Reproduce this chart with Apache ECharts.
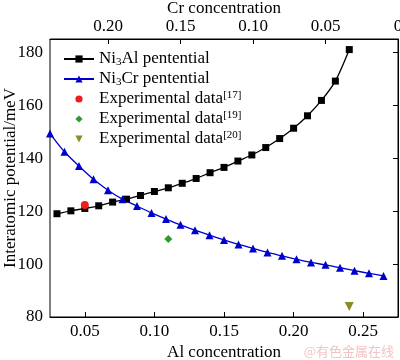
<!DOCTYPE html>
<html>
<head>
<meta charset="utf-8">
<script src="https://cdn.jsdelivr.net/npm/echarts@6/dist/echarts.min.js"></script>
<style>html,body{margin:0;padding:0;background:#fff;}#c{width:400px;height:360px;}</style>
</head>
<body>
<div id="c"></div>
<script>
// Ni3Al potential vs Al concentration (bottom axis)
var alConc = [0.03,0.04,0.05,0.06,0.07,0.08,0.09,0.10,0.11,0.12,0.13,0.14,0.15,0.16,0.17,0.18,0.19,0.20,0.21,0.22,0.23,0.24];
var ni3AlVals = [119.0,120.1,121.0,122.0,123.4,124.5,125.9,127.4,128.8,130.5,132.3,134.5,136.5,138.9,141.2,144.0,147.4,151.3,156.0,161.8,169.1,181.0];
// Ni3Cr potential vs Cr concentration (top axis)
var crConc = [0.24,0.23,0.22,0.21,0.20,0.19,0.18,0.17,0.16,0.15,0.14,0.13,0.12,0.11,0.10,0.09,0.08,0.07,0.06,0.05,0.04,0.03,0.02,0.01];
var ni3CrVals = [149.3,142.4,137.0,132.0,127.9,124.5,121.9,119.3,117.0,114.8,112.8,110.9,109.1,107.4,105.9,104.4,103.1,101.8,100.6,99.7,98.6,97.5,96.5,95.5];
// Experimental data (Al concentration, potential)
var exp17 = [[0.05,122.3]];
var exp19 = [[0.11,109.5]];
var exp20 = [[0.24,84.0]];
// Tick labels
var alTicks = [0.05,0.10,0.15,0.20,0.25];
var crTicks = [0,0.05,0.10,0.15,0.20];
var yTicks = [80,100,120,140,160,180];

var FONT = 'Liberation Serif';
var FS = 17;
var chart = echarts.init(document.getElementById('c'), null, {renderer:'canvas'});
function zip(xs, ys){ return xs.map(function(x,i){return [x, ys[i]];}); }
var legendNames = {
  'Ni3Al': 'Ni{sub|3}Al pentential',
  'Ni3Cr': 'Ni{sub|3}Cr pentential',
  'exp17': 'Experimental data{sup|[17]}',
  'exp19': 'Experimental data{sup|[19]}',
  'exp20': 'Experimental data{sup|[20]}'
};
var hidden = {opacity: 0, width: 0};
chart.setOption({
  animation: false,
  backgroundColor: '#fff',
  textStyle: {fontFamily: FONT},
  grid: {left: 50, right: 2, top: 39, bottom: 43, outerBoundsMode: 'none', containLabel: false,
    show: true, borderColor: '#000', borderWidth: 1, backgroundColor: 'transparent'},
  legend: {
    orient: 'vertical', left: 58, top: 45, itemGap: 2, itemWidth: 30, itemHeight: 9,
    data: ['Ni3Al','Ni3Cr','exp17','exp19','exp20'],
    formatter: function(n){ return legendNames[n]; },
    textStyle: {fontFamily: FONT, fontSize: FS, color: '#000', lineHeight: 18,
      rich: {
        sub: {fontFamily: FONT, fontSize: 11, color: '#000', verticalAlign: 'bottom', lineHeight: 18, padding:[7,0,0,0]},
        sup: {fontFamily: FONT, fontSize: 11, color: '#000', verticalAlign: 'top', lineHeight: 18, padding:[0,0,7,0]}
      }
    }
  },
  xAxis: [{
    type: 'value', position: 'bottom', min: 0.025, max: 0.275,
    name: 'Al concentration', nameLocation: 'middle', nameGap: 27, nameMoveOverlap: false,
    nameTextStyle: {fontFamily: FONT, fontSize: FS, color: '#000'},
    axisLine: {lineStyle: {color: '#000', width: 1}},
    axisTick: {inside: true, length: 5, customValues: alTicks, lineStyle: {color: '#000'}},
    axisLabel: {customValues: alTicks, fontFamily: FONT, fontSize: FS, color: '#000', margin: 6,
      formatter: function(v){ return v.toFixed(2); }},
    splitLine: {show: false}
  }, {
    type: 'value', position: 'top', min: 0, max: 0.24, inverse: true,
    name: 'Cr concentration', nameLocation: 'middle', nameGap: 22, nameMoveOverlap: false,
    nameTextStyle: {fontFamily: FONT, fontSize: FS, color: '#000'},
    axisLine: {lineStyle: {color: '#000', width: 1}},
    axisTick: {inside: true, length: 5, customValues: crTicks, lineStyle: {color: '#000'}},
    axisLabel: {customValues: crTicks, fontFamily: FONT, fontSize: FS, color: '#000', margin: 4,
      formatter: function(v){ return v === 0 ? '0' : v.toFixed(2); }},
    splitLine: {show: false}
  }],
  yAxis: [{
    type: 'value', min: 80, max: 185,
    name: 'Interatomic potential/meV', nameLocation: 'middle', nameGap: 31, nameMoveOverlap: false,
    nameTextStyle: {fontFamily: FONT, fontSize: FS, color: '#000'},
    axisLine: {show: true, lineStyle: {color: '#000', width: 1}},
    axisTick: {show: true, inside: false, length: 5, customValues: yTicks, lineStyle: {color: '#000'}},
    axisLabel: {customValues: yTicks, fontFamily: FONT, fontSize: FS, color: '#000', margin: 7},
    splitLine: {show: false}
  }],
  series: [{
    name: 'Ni3Al', type: 'line', xAxisIndex: 0, data: zip(alConc, ni3AlVals), smooth: 0.3,
    symbol: 'rect', symbolSize: 7, itemStyle: {color: '#000'}, lineStyle: {color: '#000', width: 1.3}, z: 3
  }, {
    name: 'Ni3Cr', type: 'line', xAxisIndex: 1, data: zip(crConc, ni3CrVals), smooth: 0.3,
    symbol: 'triangle', symbolSize: 8, itemStyle: {color: '#0000cd'}, lineStyle: {color: '#0000cd', width: 1.3}, z: 3
  }, {
    name: 'exp17', type: 'line', xAxisIndex: 0, data: exp17, symbol: 'circle', symbolSize: 8, showSymbol: true,
    itemStyle: {color: '#ee1c1c'}, lineStyle: hidden, z: 4
  }, {
    name: 'exp19', type: 'line', xAxisIndex: 0, data: exp19, symbol: 'diamond', symbolSize: 8, showSymbol: true,
    itemStyle: {color: '#2e9a2e'}, lineStyle: hidden, z: 4
  }, {
    name: 'exp20', type: 'line', xAxisIndex: 0, data: exp20, symbol: 'triangle', symbolRotate: 180, symbolSize: 9, showSymbol: true,
    itemStyle: {color: '#8b8a26'}, lineStyle: hidden, z: 4
  }],
  graphic: [{
    type: 'text', right: 6, bottom: 2,
    style: {text: '@有色金属在线', fill: '#f2c4c4', fontSize: 13, fontFamily: 'Noto Sans CJK SC'}
  }]
});
</script>
</body>
</html>
